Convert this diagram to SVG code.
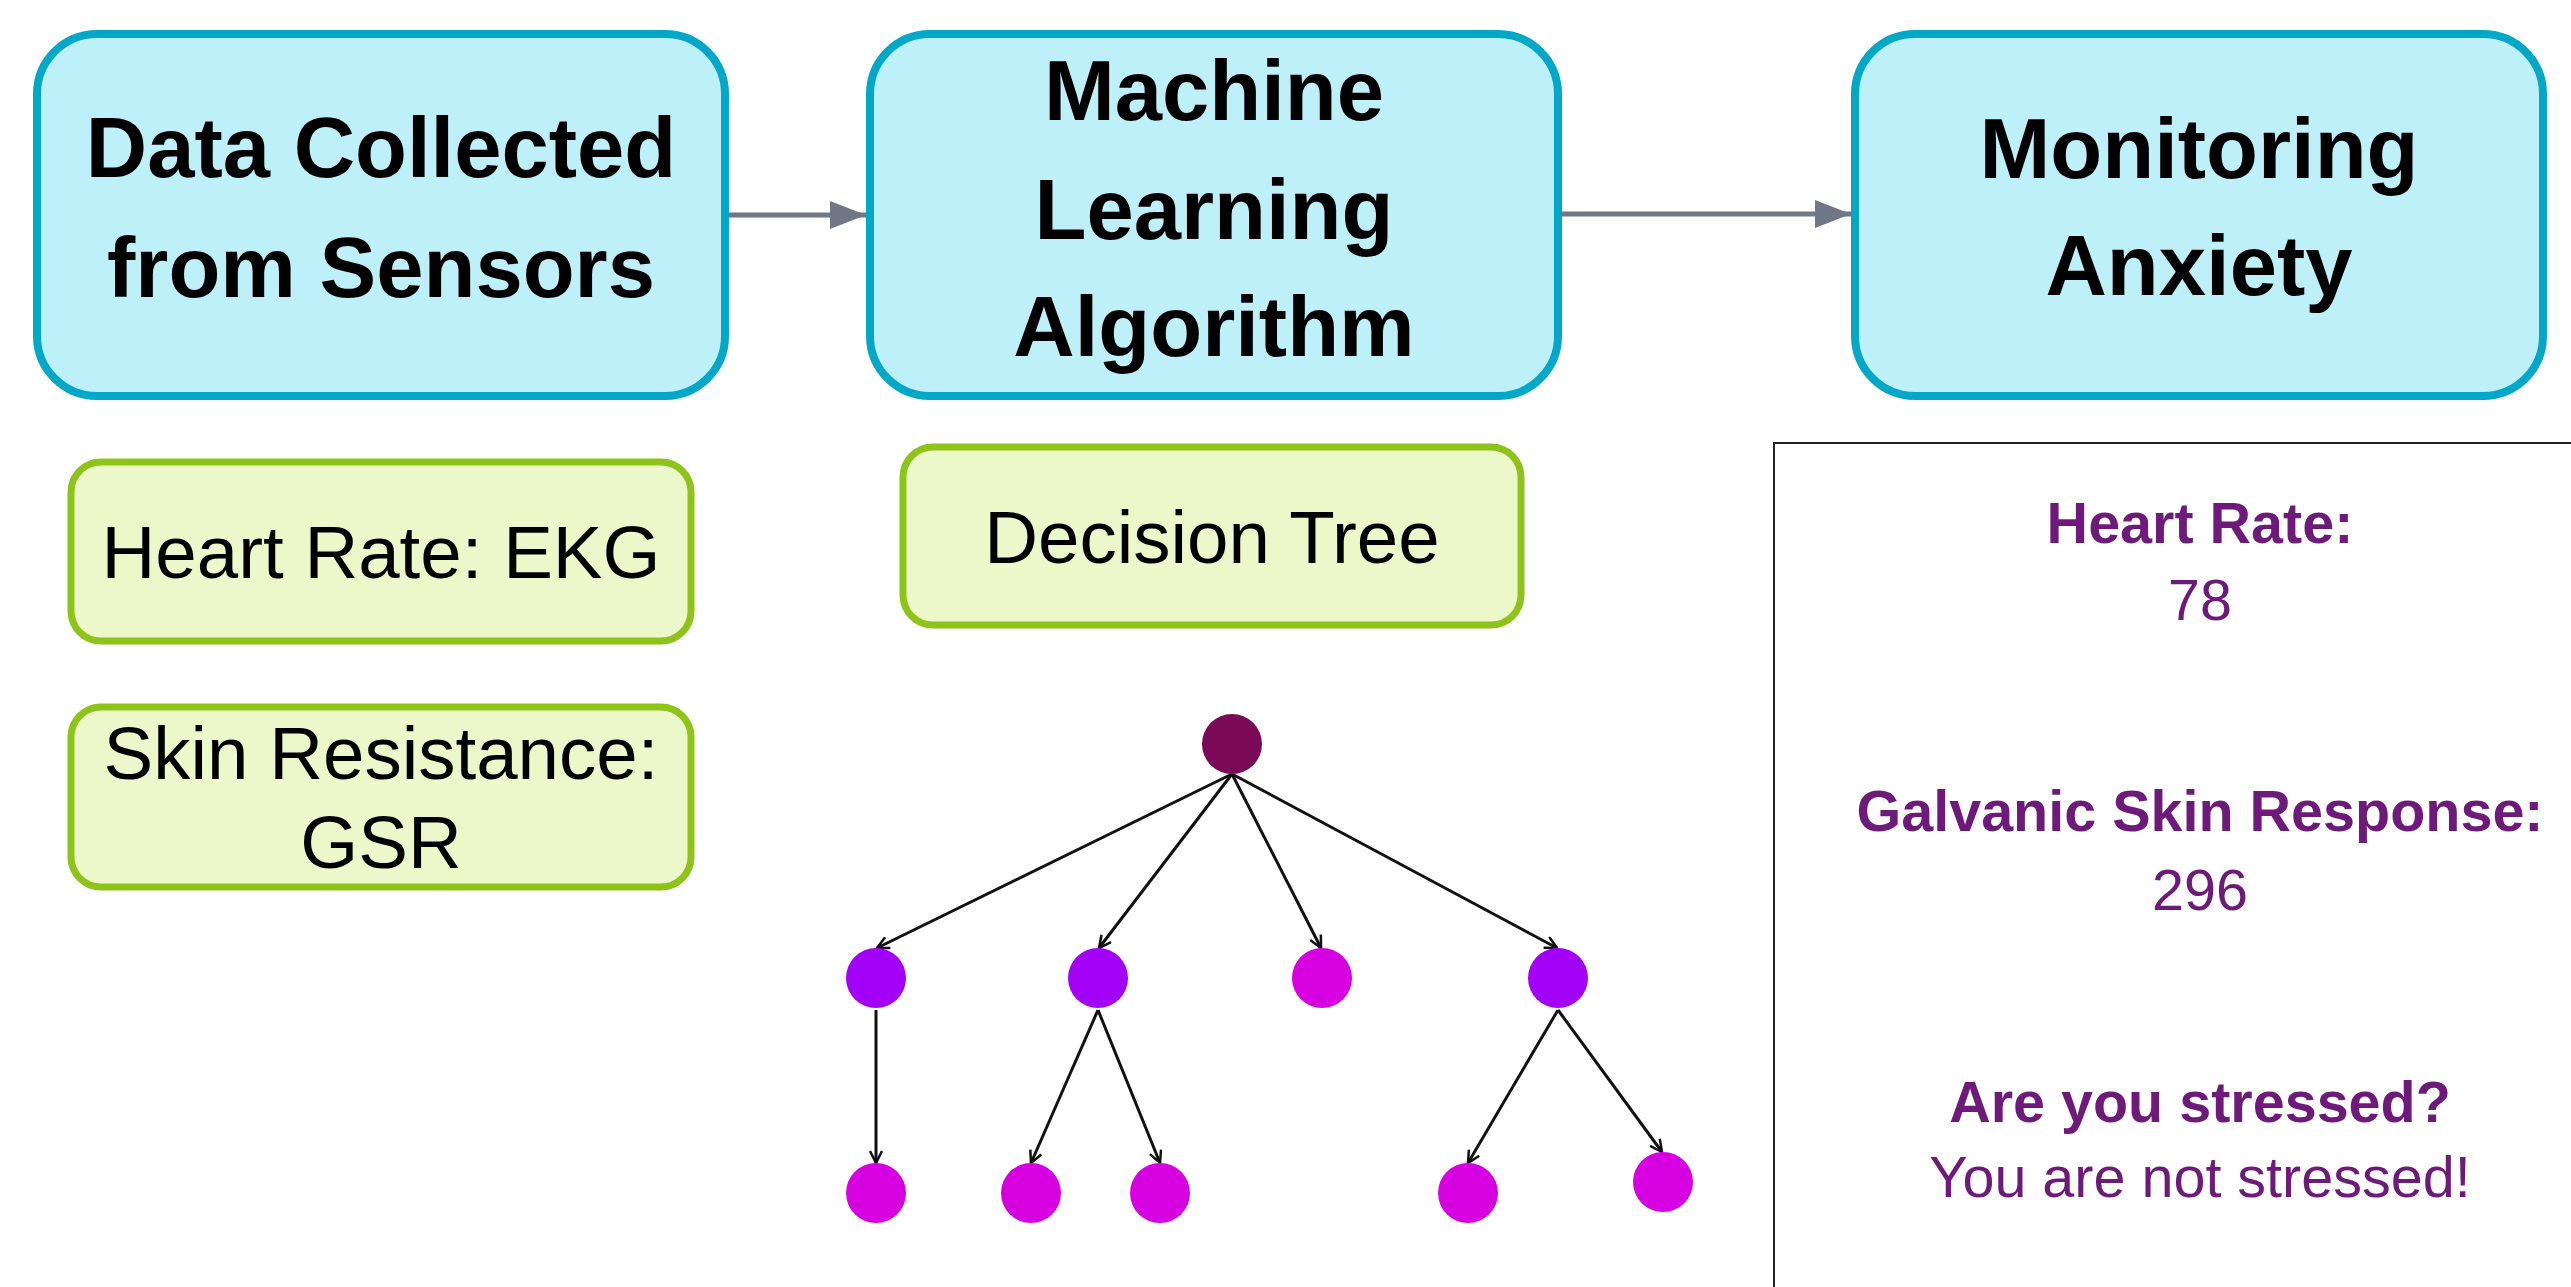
<svg xmlns="http://www.w3.org/2000/svg" width="2571" height="1287" viewBox="0 0 2571 1287">
<defs>
<style>
.main{fill:#bef0fa;stroke:#03a8c8;stroke-width:8}
.sub{fill:#edf8ca;stroke:#8ec41a;stroke-width:7}
.t1{font-family:"Liberation Sans",Arial,sans-serif;font-weight:bold;font-size:85px;fill:#000;text-anchor:middle}
.t2{font-family:"Liberation Sans",Arial,sans-serif;font-size:74.5px;fill:#000;text-anchor:middle}
.pb{font-family:"Liberation Sans",Arial,sans-serif;font-weight:bold;font-size:57.5px;fill:#6e1a7a;text-anchor:middle}
.pn{font-family:"Liberation Sans",Arial,sans-serif;font-size:57.5px;fill:#6e1a7a;text-anchor:middle}
.flow{stroke:#717786;stroke-width:5;fill:none}
.edge{stroke:#111;stroke-width:3;fill:none}
</style>
<marker id="ah" viewBox="0 0 36 28" refX="36" refY="14" markerWidth="36" markerHeight="28" markerUnits="userSpaceOnUse" orient="auto">
<path d="M0,0 L36,14 L0,28 Z" fill="#717786"/>
</marker>
<marker id="tv" viewBox="0 0 14 14" refX="13" refY="7" markerWidth="14" markerHeight="14" markerUnits="userSpaceOnUse" orient="auto">
<path d="M1,1 L13,7 L1,13" fill="none" stroke="#111" stroke-width="2.5"/>
</marker>
</defs>
<rect width="2571" height="1287" fill="#fff"/>

<g id="connectors">
<line class="flow" x1="728" y1="215" x2="866" y2="215" marker-end="url(#ah)"/>
<line class="flow" x1="1556" y1="214" x2="1851" y2="214" marker-end="url(#ah)"/>
<line class="edge" x1="1232" y1="774" x2="877" y2="948" marker-end="url(#tv)"/>
<line class="edge" x1="1232" y1="774" x2="1099" y2="948" marker-end="url(#tv)"/>
<line class="edge" x1="1232" y1="774" x2="1321" y2="948" marker-end="url(#tv)"/>
<line class="edge" x1="1232" y1="774" x2="1557" y2="948" marker-end="url(#tv)"/>
<line class="edge" x1="876" y1="1010" x2="876" y2="1163" marker-end="url(#tv)"/>
<line class="edge" x1="1098" y1="1010" x2="1031" y2="1163" marker-end="url(#tv)"/>
<line class="edge" x1="1098" y1="1010" x2="1160" y2="1163" marker-end="url(#tv)"/>
<line class="edge" x1="1558" y1="1010" x2="1468" y2="1163" marker-end="url(#tv)"/>
<line class="edge" x1="1558" y1="1010" x2="1662" y2="1152" marker-end="url(#tv)"/>
</g>

<g id="node-data">
<rect class="main" x="37" y="34" width="688" height="362" rx="60"/>
<text class="t1" x="381" y="177">Data Collected</text>
<text class="t1" x="381" y="297">from Sensors</text>
</g>
<g id="node-ml">
<rect class="main" x="870" y="34" width="688" height="362" rx="60"/>
<text class="t1" x="1214" y="120">Machine</text>
<text class="t1" x="1214" y="239">Learning</text>
<text class="t1" x="1214" y="356">Algorithm</text>
</g>
<g id="node-monitor">
<rect class="main" x="1855" y="34" width="688" height="362" rx="60"/>
<text class="t1" x="2199" y="178">Monitoring</text>
<text class="t1" x="2199" y="295">Anxiety</text>
</g>
<g id="node-hr">
<rect class="sub" x="71" y="462" width="620" height="179" rx="30"/>
<text class="t2" x="381" y="578">Heart Rate: EKG</text>
</g>
<g id="node-gsr">
<rect class="sub" x="71" y="707" width="620" height="180" rx="30"/>
<text class="t2" x="381" y="779">Skin Resistance:</text>
<text class="t2" x="381" y="868">GSR</text>
</g>
<g id="node-dt">
<rect class="sub" x="903" y="447" width="618" height="178" rx="30"/>
<text class="t2" x="1212" y="563">Decision Tree</text>
</g>

<g id="tree">
<circle cx="1232" cy="744" r="30" fill="#7b0a56"/>
<circle cx="876" cy="978" r="30" fill="#a300f7"/>
<circle cx="1098" cy="978" r="30" fill="#a300f7"/>
<circle cx="1322" cy="978" r="30" fill="#d600e0"/>
<circle cx="1558" cy="978" r="30" fill="#a300f7"/>
<circle cx="876" cy="1193" r="30" fill="#d600e0"/>
<circle cx="1031" cy="1193" r="30" fill="#d600e0"/>
<circle cx="1160" cy="1193" r="30" fill="#d600e0"/>
<circle cx="1468" cy="1193" r="30" fill="#d600e0"/>
<circle cx="1663" cy="1182" r="30" fill="#d600e0"/>
</g>

<g id="panel">
<rect x="1774" y="443" width="820" height="870" fill="#fff" stroke="#222" stroke-width="2"/>
<text class="pb" x="2200" y="543">Heart Rate:</text>
<text class="pn" x="2200" y="620">78</text>
<text class="pb" x="2200" y="831">Galvanic Skin Response:</text>
<text class="pn" x="2200" y="910">296</text>
<text class="pb" x="2200" y="1122">Are you stressed?</text>
<text class="pn" x="2200" y="1197">You are not stressed!</text>
</g>
</svg>
